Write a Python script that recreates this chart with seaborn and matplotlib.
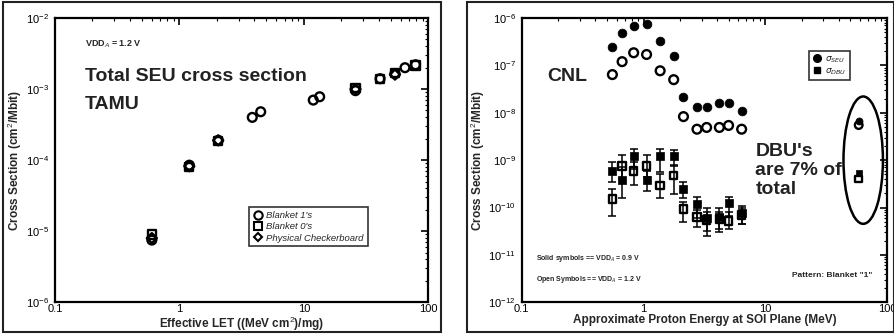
import numpy as np
import pandas as pd
import matplotlib
matplotlib.use("Agg")
import matplotlib.pyplot as plt
import seaborn as sns
from matplotlib.lines import Line2D
from matplotlib.patches import Ellipse, Rectangle
from matplotlib.ticker import LogLocator, NullFormatter

# ---- left panel: TAMU heavy ion data ----
let_b1 = [0.6, 1.2, 2.05, 3.85, 4.5, 11.9, 13.4, 26, 41, 54, 65, 79]
sig_b1 = [7.5e-6, 8.5e-5, 1.9e-4, 4.0e-4, 4.8e-4, 7.0e-4, 7.8e-4, 9.5e-4, 1.4e-3, 1.65e-3, 2.0e-3, 2.2e-3]
let_b0 = [0.6, 1.2, 2.05, 26, 41, 54, 79]
sig_b0 = [9.0e-6, 8.0e-5, 1.85e-4, 1.05e-3, 1.4e-3, 1.7e-3, 2.15e-3]
let_ck = [0.6, 1.2, 2.05, 26, 54]
sig_ck = [8.0e-6, 8.2e-5, 1.9e-4, 1.0e-3, 1.6e-3]

# ---- right panel: CNL proton data ----
e_p = [0.555, 0.667, 0.83, 1.06, 1.37, 1.77, 2.13, 2.75, 3.3, 4.2, 5.0, 6.4]
seu_09 = [2.5e-7, 4.9e-7, 6.8e-7, 7.5e-7, 3.3e-7, 1.6e-7, 2.2e-8, 1.3e-8, 1.3e-8, 1.6e-8, 1.6e-8, 1.07e-8]
seu_12 = [6.4e-8, 1.2e-7, 1.85e-7, 1.7e-7, 7.7e-8, 5.0e-8, 8.3e-9, 4.5e-9, 4.9e-9, 4.9e-9, 5.4e-9, 4.5e-9]
dbu_09 = [5.9e-10, 3.8e-10, 1.2e-9, 3.8e-10, 1.2e-9, 1.2e-9, 2.5e-10, 1.2e-10, 6.1e-11, 6.3e-11, 1.25e-10, 7.7e-11]
dbu_09_lo = [3.5e-10, 1.6e-10, 6.5e-10, 2.2e-10, 5.5e-10, 7.5e-10, 1.6e-10, 6.0e-11, 2.5e-11, 3.0e-11, 6.5e-11, 4.5e-11]
dbu_09_hi = [9.0e-10, 7.0e-10, 1.75e-9, 6.0e-10, 1.75e-9, 1.6e-9, 3.5e-10, 1.7e-10, 1.0e-10, 1.0e-10, 1.7e-10, 1.1e-10]
dbu_12 = [1.5e-10, 7.6e-10, 5.9e-10, 7.6e-10, 2.9e-10, 4.7e-10, 9.3e-11, 6.4e-11, 5.5e-11, 5.7e-11, 5.2e-11, 7.0e-11]
dbu_12_lo = [6.5e-11, 4.0e-10, 3.0e-10, 4.5e-10, 1.6e-10, 1.9e-10, 5.0e-11, 3.8e-11, 3.2e-11, 3.5e-11, 3.5e-11, 4.5e-11]
dbu_12_hi = [2.5e-10, 1.3e-9, 9.0e-10, 1.3e-9, 5.0e-10, 8.0e-10, 1.3e-10, 9.0e-11, 8.0e-11, 8.0e-11, 8.0e-11, 1.0e-10]
# circled points near 60 MeV
e_c = [58.6]
seu_c09 = [6.6e-9]
seu_c12 = [5.5e-9]
dbu_c09 = [5.4e-10]
dbu_c12 = [4.0e-10]

sns.set_theme(style="white")
plt.rcParams['font.family'] = ['Liberation Sans', 'DejaVu Sans']
plt.rcParams['mathtext.fontset'] = 'custom'
plt.rcParams['mathtext.rm'] = 'Liberation Sans'
plt.rcParams['mathtext.bf'] = 'Liberation Sans:bold'

fig = plt.figure(figsize=(8.95, 3.34), dpi=100)
fig.patch.set_facecolor('white')

# panel borders
fig.add_artist(Rectangle((0.003, 0.006), 0.49, 0.988, transform=fig.transFigure,
                         fill=False, lw=1.5, ec='#222222'))
fig.add_artist(Rectangle((0.522, 0.006), 0.477, 0.988, transform=fig.transFigure,
                         fill=False, lw=1.5, ec='#222222'))

ax1 = fig.add_axes([0.0615, 0.095, 0.417, 0.851])
ax2 = fig.add_axes([0.583, 0.095, 0.408, 0.851])


def style_log_axes(ax):
    ax.set_xscale('log')
    ax.set_yscale('log')
    for s in ax.spines.values():
        s.set_linewidth(1.6)
        s.set_color('black')
    ax.xaxis.set_minor_locator(LogLocator(base=10, subs=np.arange(2, 10), numticks=20))
    ax.yaxis.set_minor_locator(LogLocator(base=10, subs=np.arange(2, 10), numticks=20))
    ax.xaxis.set_minor_formatter(NullFormatter())
    ax.yaxis.set_minor_formatter(NullFormatter())
    ax.tick_params(which='both', direction='in', top=True, right=True, colors='black',
                   labelsize=8, pad=2)
    ax.tick_params(axis='x', which='major', pad=1.5)
    ax.tick_params(axis='y', which='major', pad=4.5)
    ax.tick_params(which='major', length=5, width=1.2)
    ax.tick_params(which='minor', length=2.5, width=0.8)
    ax.grid(False)
    ax.set_facecolor('white')


def hollow(ax, x, y, marker, s=38):
    sns.scatterplot(x=x, y=y, ax=ax, marker=marker, s=s, facecolor='none',
                    edgecolor='black', linewidth=1.7, zorder=3)


def solid(ax, x, y, marker, s=38):
    sns.scatterplot(x=x, y=y, ax=ax, marker=marker, s=s, color='black',
                    edgecolor='black', linewidth=0.5, zorder=4)


# ---- left panel ----
style_log_axes(ax1)
hollow(ax1, let_b0, sig_b0, 's', 34)
hollow(ax1, let_ck, sig_ck, 'D', 26)
hollow(ax1, let_b1, sig_b1, 'o', 40)
ax1.set_xlim(0.1, 100)
ax1.set_ylim(1e-6, 1e-2)
ax1.set_xticks([0.1, 1, 10, 100], ['0.1', '1', '10', '100'])
ax1.set_xlabel('Effective LET ((MeV cm$^2$)/mg)', fontsize=8.5, fontweight='bold', labelpad=0)
ax1.set_ylabel('Cross Section (cm$^2$/Mbit)', fontsize=8.5, fontweight='bold', labelpad=1)
ax1.text(0.08, 0.9, 'VDD$_A$ = 1.2 V', transform=ax1.transAxes, fontsize=6.5, fontweight='bold')
ax1.text(0.08, 0.78, 'Total SEU cross section', transform=ax1.transAxes, fontsize=14,
         fontweight='bold', color='#222222')
ax1.text(0.08, 0.68, 'TAMU', transform=ax1.transAxes, fontsize=14,
         fontweight='bold', color='#222222')
h1 = [Line2D([], [], ls='none', marker='o', mfc='none', mec='black', mew=1.5, ms=6),
      Line2D([], [], ls='none', marker='s', mfc='none', mec='black', mew=1.5, ms=5.5),
      Line2D([], [], ls='none', marker='D', mfc='none', mec='black', mew=1.5, ms=4.5)]
leg1 = ax1.legend(h1, ["Blanket 1's", "Blanket 0's", 'Physical Checkerboard'],
                  loc='lower right', bbox_to_anchor=(0.85, 0.18), fontsize=6.8,
                  frameon=True, fancybox=False, edgecolor='black', handletextpad=0.4,
                  borderpad=0.4, labelspacing=0.25, handlelength=1.0)
leg1.get_frame().set_linewidth(1.2)
for t in leg1.get_texts():
    t.set_fontstyle('italic')

# ---- right panel ----
style_log_axes(ax2)
ax2.errorbar(e_p, dbu_09, yerr=[np.array(dbu_09) - np.array(dbu_09_lo),
                                np.array(dbu_09_hi) - np.array(dbu_09)],
             fmt='none', ecolor='black', elinewidth=1.1, capsize=3, capthick=1.1, zorder=2)
ax2.errorbar(e_p, dbu_12, yerr=[np.array(dbu_12) - np.array(dbu_12_lo),
                                np.array(dbu_12_hi) - np.array(dbu_12)],
             fmt='none', ecolor='black', elinewidth=1.1, capsize=3, capthick=1.1, zorder=2)
hollow(ax2, e_p, seu_12, 'o', 40)
solid(ax2, e_p, seu_09, 'o', 40)
hollow(ax2, e_p, dbu_12, 's', 30)
solid(ax2, e_p, dbu_09, 's', 26)
hollow(ax2, e_c, seu_c12, 'o', 30)
solid(ax2, e_c, seu_c09, 'o', 26)
hollow(ax2, e_c, dbu_c12, 's', 24)
solid(ax2, e_c, dbu_c09, 's', 18)
ax2.set_xlim(0.1, 100)
ax2.set_ylim(1e-12, 1e-6)
ax2.set_xticks([0.1, 1, 10, 100], ['0.1', '1', '10', '100'])
ax2.set_xlabel('Approximate Proton Energy at SOI Plane (MeV)', fontsize=8.5,
               fontweight='bold', labelpad=0)
ax2.set_ylabel('Cross Section (cm$^2$/Mbit)', fontsize=8.5, fontweight='bold', labelpad=1)
ax2.add_patch(Ellipse((0.935, 0.50), 0.108, 0.448, transform=ax2.transAxes,
                      fill=False, lw=1.8, ec='black', zorder=5))
ax2.text(0.07, 0.78, 'CNL', transform=ax2.transAxes, fontsize=14, fontweight='bold',
         color='#222222')
ax2.text(0.64, 0.38, "DBU's\nare 7% of\ntotal", transform=ax2.transAxes, fontsize=14,
         fontweight='bold', color='#222222', linespacing=1.15)
ax2.text(0.04, 0.15, 'Solid symbols == VDD$_A$ = 0.9 V', transform=ax2.transAxes,
         fontsize=5, fontweight='bold')
ax2.text(0.04, 0.075, 'Open Symbols == VDD$_A$ = 1.2 V', transform=ax2.transAxes,
         fontsize=5, fontweight='bold')
ax2.text(0.96, 0.09, 'Pattern: Blanket "1"', transform=ax2.transAxes, fontsize=6,
         fontweight='bold', ha='right')
h2 = [Line2D([], [], ls='none', marker='o', mfc='black', mec='black', ms=5.5),
      Line2D([], [], ls='none', marker='s', mfc='black', mec='black', ms=4.5)]
leg2 = ax2.legend(h2, [r'$\sigma_{SEU}$', r'$\sigma_{DBU}$'], loc='upper right',
                  bbox_to_anchor=(0.91, 0.9), fontsize=6.5, frameon=True, fancybox=False,
                  edgecolor='black', handletextpad=0.4, borderpad=0.35,
                  labelspacing=0.2, handlelength=1.0)
leg2.get_frame().set_linewidth(1.2)

fig.savefig('out.png', dpi=100, facecolor='white')
